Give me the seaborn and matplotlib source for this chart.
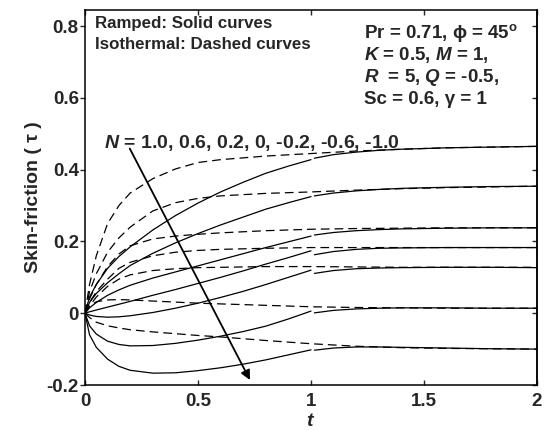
import matplotlib
matplotlib.use('Agg')
import matplotlib.pyplot as plt
import seaborn as sns

# time grids
t_iso = [0, 0.02, 0.05, 0.1, 0.15, 0.2, 0.3, 0.4, 0.5, 0.6, 0.8, 1.0, 1.2, 1.4, 1.6, 1.8, 2.0]
t_ramp_a = [0, 0.02, 0.05, 0.1, 0.15, 0.2, 0.3, 0.4, 0.5, 0.6, 0.7, 0.8, 0.9, 1.0]
t_ramp_b = [1.0, 1.1, 1.2, 1.3, 1.4, 1.6, 1.8, 2.0]

N_values = [1.0, 0.6, 0.2, 0, -0.2, -0.6, -1.0]

# isothermal plate (dashed)
iso_n10 = [0, 0.08, 0.16, 0.25, 0.30, 0.335, 0.375, 0.402, 0.42, 0.428, 0.438, 0.445, 0.452, 0.457, 0.461, 0.463, 0.465]
iso_n06 = [0, 0.06, 0.11, 0.17, 0.21, 0.24, 0.285, 0.308, 0.32, 0.327, 0.334, 0.338, 0.343, 0.347, 0.35, 0.352, 0.354]
iso_n02 = [0, 0.04, 0.08, 0.13, 0.165, 0.188, 0.207, 0.215, 0.22, 0.224, 0.23, 0.234, 0.236, 0.237, 0.238, 0.238, 0.238]
iso_n00 = [0, 0.03, 0.06, 0.095, 0.125, 0.142, 0.16, 0.17, 0.175, 0.178, 0.181, 0.183, 0.183, 0.183, 0.183, 0.183, 0.183]
iso_m02 = [0, 0.02, 0.045, 0.075, 0.095, 0.107, 0.119, 0.124, 0.127, 0.128, 0.13, 0.13, 0.129, 0.128, 0.128, 0.128, 0.128]
iso_m06 = [0, 0.02, 0.032, 0.037, 0.038, 0.037, 0.034, 0.031, 0.028, 0.026, 0.022, 0.018, 0.016, 0.015, 0.014, 0.014, 0.014]
iso_m10 = [0, -0.012, -0.025, -0.035, -0.041, -0.046, -0.052, -0.057, -0.062, -0.066, -0.076, -0.085, -0.092, -0.096, -0.098, -0.099, -0.1]

# ramped plate (solid), before and after t = 1
ramp_n10_a = [0, 0.045, 0.08, 0.125, 0.158, 0.185, 0.232, 0.272, 0.307, 0.338, 0.365, 0.39, 0.41, 0.428]
ramp_n06_a = [0, 0.03, 0.055, 0.085, 0.11, 0.133, 0.167, 0.196, 0.222, 0.246, 0.268, 0.29, 0.308, 0.325]
ramp_n02_a = [0, 0.015, 0.03, 0.05, 0.065, 0.078, 0.098, 0.115, 0.132, 0.149, 0.166, 0.183, 0.199, 0.215]
ramp_n00_a = [0, 0.004, 0.009, 0.017, 0.025, 0.033, 0.05, 0.066, 0.083, 0.1, 0.118, 0.137, 0.155, 0.174]
ramp_m02_a = [0, -0.005, -0.009, -0.011, -0.01, -0.007, 0.002, 0.014, 0.028, 0.044, 0.061, 0.08, 0.1, 0.12]
ramp_m06_a = [0, -0.035, -0.058, -0.078, -0.087, -0.091, -0.09, -0.084, -0.075, -0.064, -0.051, -0.036, -0.016, 0.006]
ramp_m10_a = [0, -0.06, -0.095, -0.128, -0.148, -0.159, -0.167, -0.166, -0.16, -0.152, -0.142, -0.13, -0.116, -0.102]

ramp_n10_b = [0.432, 0.442, 0.449, 0.454, 0.457, 0.461, 0.463, 0.465]
ramp_n06_b = [0.327, 0.335, 0.341, 0.345, 0.348, 0.351, 0.353, 0.354]
ramp_n02_b = [0.218, 0.225, 0.23, 0.233, 0.235, 0.237, 0.238, 0.238]
ramp_n00_b = [0.163, 0.172, 0.178, 0.181, 0.182, 0.183, 0.183, 0.183]
ramp_m02_b = [0.111, 0.119, 0.124, 0.126, 0.127, 0.128, 0.128, 0.127]
ramp_m06_b = [0.001, 0.008, 0.012, 0.014, 0.015, 0.015, 0.014, 0.014]
ramp_m10_b = [-0.103, -0.097, -0.094, -0.094, -0.095, -0.097, -0.099, -0.1]

iso_curves = [iso_n10, iso_n06, iso_n02, iso_n00, iso_m02, iso_m06, iso_m10]
ramp_a_curves = [ramp_n10_a, ramp_n06_a, ramp_n02_a, ramp_n00_a, ramp_m02_a, ramp_m06_a, ramp_m10_a]
ramp_b_curves = [ramp_n10_b, ramp_n06_b, ramp_n02_b, ramp_n00_b, ramp_m02_b, ramp_m06_b, ramp_m10_b]

sns.set_theme(style='ticks')
plt.rcParams['font.family'] = ['Liberation Sans', 'DejaVu Sans']
plt.rcParams['font.weight'] = 'bold'
plt.rcParams['axes.labelweight'] = 'bold'
plt.rcParams['axes.unicode_minus'] = False
plt.rcParams['mathtext.fontset'] = 'custom'
plt.rcParams['mathtext.rm'] = 'Liberation Sans:bold'
plt.rcParams['mathtext.it'] = 'Liberation Sans:italic:bold'
plt.rcParams['mathtext.bf'] = 'Liberation Sans:bold'

fig = plt.figure(figsize=(5.44, 4.30), dpi=100)
ax = fig.add_axes([85 / 544, 1 - 385 / 430, 452 / 544, 375 / 430])

for iso in iso_curves:
    sns.lineplot(x=t_iso, y=iso, ax=ax, color='black', lw=0.9,
                 linestyle=(0, (7, 4)), errorbar=None)
for ya, yb in zip(ramp_a_curves, ramp_b_curves):
    sns.lineplot(x=t_ramp_a, y=ya, ax=ax, color='black', lw=0.9, errorbar=None)
    # small gap at t = 1 where the ramp ends
    sns.lineplot(x=[t + 0.015 if t == 1.0 else t for t in t_ramp_b], y=yb,
                 ax=ax, color='black', lw=0.9, errorbar=None)

ax.set_xlim(0, 2)
ax.set_ylim(-0.2, 0.845)
ax.set_xticks([0, 0.5, 1, 1.5, 2])
ax.set_xticklabels(['0', '0.5', '1', '1.5', '2'])
ax.set_yticks([-0.2, 0, 0.2, 0.4, 0.6, 0.8])
ax.set_yticklabels(['-0.2', '0', '0.2', '0.4', '0.6', '0.8'])
ax.tick_params(axis='x', direction='in', top=True, length=3.5, width=1, pad=6, labelsize=13.5)
ax.tick_params(axis='y', direction='out', length=3.5, width=1, pad=1, labelsize=13.5)
sec = ax.secondary_yaxis('right')
sec.set_yticks([-0.2, 0, 0.2, 0.4, 0.6, 0.8])
sec.tick_params(direction='in', length=3.5, width=1, labelright=False)
for sp in list(ax.spines.values()) + list(sec.spines.values()):
    sp.set_linewidth(1.1)
    sp.set_color('black')

ax.set_xlabel('$t$', fontsize=14, labelpad=2)
ax.set_ylabel('Skin-friction ( τ )', fontsize=14, fontweight='bold', labelpad=3)

ax.annotate('', xy=(0.73, -0.186), xytext=(0.198, 0.459),
            arrowprops=dict(arrowstyle='-|>', color='black', lw=1.3,
                            mutation_scale=14, shrinkA=0, shrinkB=0))
ax.text(0.085, 0.474, '$N$ = 1.0, 0.6, 0.2, 0, -0.2, -0.6, -1.0',
        fontsize=14, va='center', ha='left')

ax.text(0.022, 0.952, 'Ramped: Solid curves', transform=ax.transAxes,
        fontsize=12.2, va='baseline')
ax.text(0.022, 0.895, 'Isothermal: Dashed curves', transform=ax.transAxes,
        fontsize=12.2, va='baseline')

params = ['Pr = 0.71, ϕ = 45$^\\mathrm{o}$',
          '$K$ = 0.5, $M$ = 1,',
          '$R$  = 5, $Q$ = -0.5,',
          'Sc = 0.6, γ = 1']
for i, line in enumerate(params):
    ax.text(0.617, 0.925 - i * 0.059, line, transform=ax.transAxes,
            fontsize=13.5, va='baseline')

fig.savefig('out.png', dpi=100)
